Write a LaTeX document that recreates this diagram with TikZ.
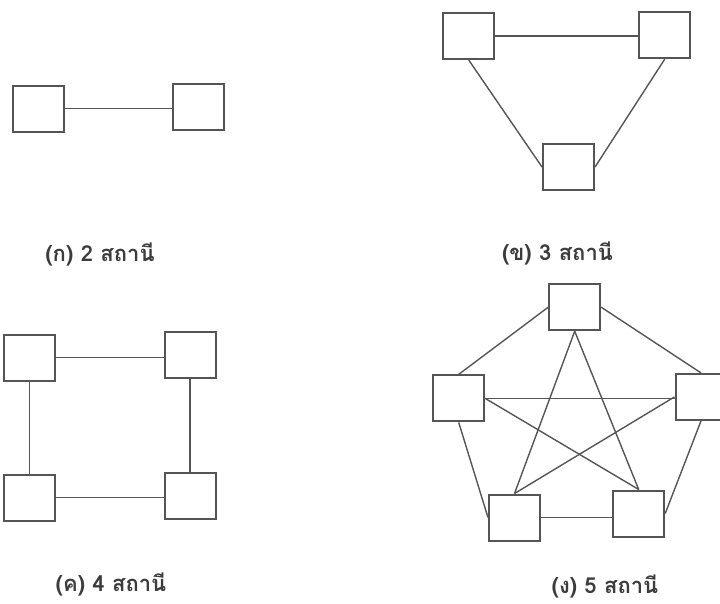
\documentclass[tikz,border=0pt]{standalone}
\usepackage{fontspec}
\newfontfamily\thaifont[Script=Thai]{Loma}
\definecolor{edge}{HTML}{555555}
\definecolor{ink}{HTML}{3C3C3C}
\begin{document}
\begin{tikzpicture}[x=1pt,y=-1pt,
  station/.style={draw=edge,line width=2pt,fill=white,minimum width=51pt,minimum height=46pt,inner sep=0pt},
  link/.style={draw=edge,line width=1.4pt},
  caption/.style={font=\thaifont\bfseries\fontsize{22}{26}\selectfont,text=ink,inner sep=0pt}]
\useasboundingbox (0,0) rectangle (720,603);
\clip (0,0) rectangle (720,603);

% (a) two stations
\node[station] (a1) at (38,108.5) {};
\node[station] (a2) at (198,107) {};
\draw[link] (a1.east) -- (a1.east -| a2.west);
\node[caption] (ca) at (100,254) {(ก) 2 สถานี};

% (b) three stations
\node[station] (b1) at (468.7,36) {};
\node[station] (b2) at (664.7,35.2) {};
\node[station] (b3) at (568.5,167) {};
\draw[link] (b1.east) -- (b1.east -| b2.west);
\draw[link] (b1.south) -- (b3.west);
\draw[link] (b2.south) -- (b3.east);
\node[caption] (cb) at (557.5,253) {(ข) 3 สถานี};

% (c) four stations
\node[station] (c1) at (29.7,357.5) {};
\node[station] (c2) at (190,355) {};
\node[station] (c3) at (29.7,497.5) {};
\node[station] (c4) at (190,495.5) {};
\draw[link] (c1.east) -- (c1.east -| c2.west);
\draw[link] (c3.east) -- (c3.east -| c4.west);
\draw[link] (c1.south) -- (c1.south |- c3.north);
\draw[link] (c2.south) -- (c2.south |- c4.north);
\node[caption] (cc) at (111,584) {(ค) 4 สถานี};

% (d) five stations, fully connected
\node[station] (dT) at (574.7,307.2) {};
\node[station] (dL) at (458.7,398.4) {};
\node[station] (dR) at (701,396.9) {};
\node[station] (dBL) at (514.5,517.5) {};
\node[station] (dBR) at (638.7,513.5) {};
\draw[link] (dT.west) -- (dL.north);
\draw[link] (dT.east) -- (dR.north);
\draw[link] (dL.east) -- (dL.east -| dR.west);
\draw[link] (dL.south) -- (dBL.west);
\draw[link] (dR.south) -- (dBR.east);
\draw[link] (dBL.east) -- (dBL.east -| dBR.west);
\draw[link] (dT.south) -- (dBL.north);
\draw[link] (dT.south) -- (dBR.north);
\draw[link] (dL.east) -- (dBR.north);
\draw[link] (dR.west) -- (dBL.north);
\node[caption] (cd) at (605,586) {(ง) 5 สถานี};
\end{tikzpicture}
\end{document}
